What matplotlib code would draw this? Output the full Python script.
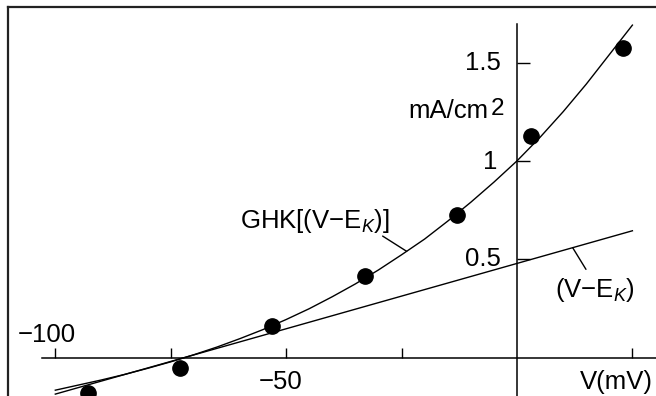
"""
GHK current vs linear (V - E_K) current, mA/cm2 vs V (mV)
"""
import matplotlib.pyplot as plt
from matplotlib.lines import Line2D
import numpy as np

plt.rcParams['font.family'] = ['Liberation Sans', 'DejaVu Sans']
plt.rcParams['mathtext.fontset'] = 'custom'
plt.rcParams['mathtext.rm'] = 'Liberation Sans'
plt.rcParams['mathtext.it'] = 'Liberation Sans:italic'

# measured points
v_pts = [-93, -73, -53, -33, -13, 3, 23]
i_pts = [-0.18, -0.05, 0.161, 0.417, 0.727, 1.128, 1.575]

# GHK curve
ghk_v = [-100, -95, -90, -85, -80, -75, -70, -65, -60, -55, -50, -45, -40,
         -35, -30, -25, -20, -15, -10, -5, 0, 5, 10, 15, 20, 25]
ghk_i = [-0.165, -0.139, -0.113, -0.085, -0.054, -0.021, 0.015, 0.054,
         0.097, 0.143, 0.194, 0.249, 0.310, 0.375, 0.446, 0.523, 0.603,
         0.694, 0.79, 0.892, 1.0, 1.12, 1.25, 1.39, 1.54, 1.69]

# linear (V - E_K)
lin_v = [-100, 25]
lin_i = [-0.185, 0.645]

xticks = [-100, -75, -50, -25, 25]
yticks = [0.5, 1, 1.5]

fig = plt.figure(figsize=(6.56, 3.96), dpi=100)
ax = fig.add_axes([0, 0, 1, 1])
ax.set_xlim(-111.98, 30.11)
ax.set_ylim(-0.1946, 1.8176)

# axes through the origin
for s in ['top', 'right']:
    ax.spines[s].set_visible(False)
ax.spines['left'].set_position(('data', 0))
ax.spines['bottom'].set_position(('data', 0))
ax.spines['left'].set_bounds(-0.2, 1.696)
ax.spines['bottom'].set_bounds(-102.9, 31)
ax.spines['left'].set_linewidth(1.1)
ax.spines['bottom'].set_linewidth(1.1)
ax.set_xticks(xticks)
ax.set_yticks(yticks)
ax.tick_params(axis='x', direction='in', length=7.2, width=1.0, labelbottom=False)
ax.tick_params(axis='y', direction='in', length=9.4, width=1.0, labelleft=False)
ax.patch.set_alpha(0)

ax.plot(ghk_v, ghk_i, color='black', lw=1.0)
ax.plot(lin_v, lin_i, color='black', lw=1.0)
ax.plot(v_pts, i_pts, 'o', color='black', ms=11, clip_on=False)

fs = 18.5
ax.text(-101.8, 0.081, '\u2212100', fontsize=fs, ha='center', va='baseline')
ax.text(-51.1, -0.1565, '\u221250', fontsize=fs, ha='center', va='baseline')
ax.text(21.6, -0.1565, 'V(mV)', fontsize=fs, ha='center', va='baseline')
ax.text(-3.4, 1.462, '1.5', fontsize=fs, ha='right', va='baseline')
ax.text(-4.2, 0.957, '1', fontsize=fs, ha='right', va='baseline')
ax.text(-3.4, 0.466, '0.5', fontsize=fs, ha='right', va='baseline')
ax.text(-6.2, 1.2165, 'mA/cm', fontsize=fs, ha='right', va='baseline')
ax.text(-5.6, 1.232, '2', fontsize=fs - 1, ha='left', va='baseline')

# labels with leader lines
ax.text(-60.0, 0.661, 'GHK[(V\u2212E$_K$)]', fontsize=fs, ha='left', va='baseline')
ghk_x = -23.9
ax.annotate('', xy=(ghk_x, np.interp(ghk_x, ghk_v, ghk_i)), xytext=(-29.1, 0.618),
            arrowprops=dict(arrowstyle='-', lw=1.0, color='black',
                            shrinkA=0, shrinkB=0))
ax.text(8.2, 0.31, '(V\u2212E$_K$)', fontsize=fs, ha='left', va='baseline')
lin_x = 12.06
ax.annotate('', xy=(lin_x, np.interp(lin_x, lin_v, lin_i)), xytext=(14.94, 0.449),
            arrowprops=dict(arrowstyle='-', lw=1.0, color='black',
                            shrinkA=0, shrinkB=0))

# partial frame (picture is cropped)
fig.add_artist(Line2D([8 / 656, 1], [1 - 7 / 396, 1 - 7 / 396],
                      transform=fig.transFigure, color='#222222', lw=1.6))
fig.add_artist(Line2D([8 / 656, 8 / 656], [0, 1 - 7 / 396],
                      transform=fig.transFigure, color='#222222', lw=1.6))

plt.savefig('out.png', dpi=100)
